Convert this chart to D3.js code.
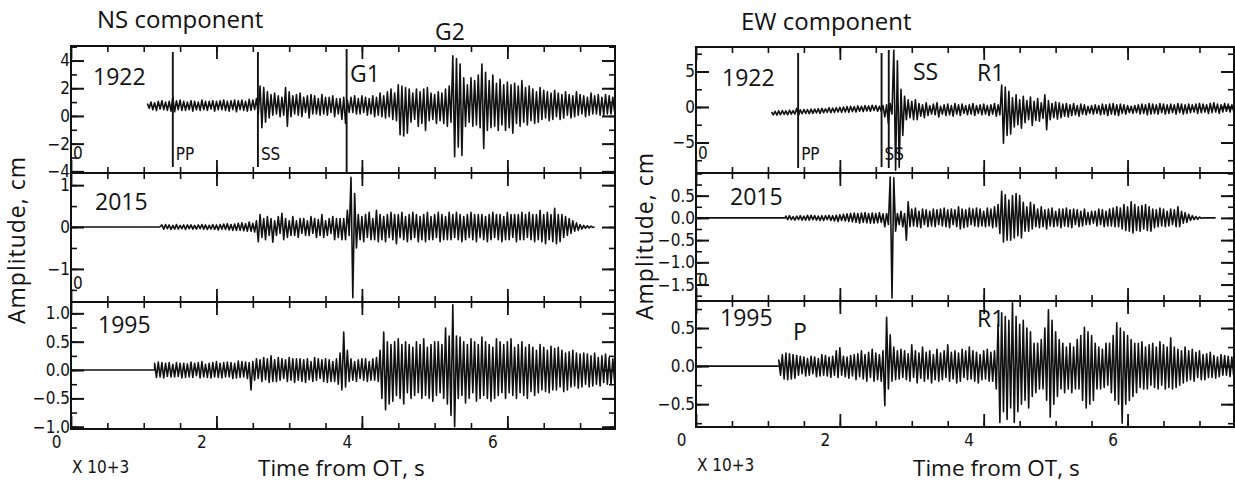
<!DOCTYPE html>
<html lang="en">
<head>
<meta charset="UTF-8">
<title>NS / EW seismograms 1922, 2015, 1995</title>
<style>
  body { margin: 0; padding: 0; background: #fff; }
  svg { display: block; }
  .narrow { font-family: "Liberation Sans Narrow", "DejaVu Sans Condensed", "Arial Narrow", sans-serif; }
  .big { font-family: "Open Sans", "Noto Sans", sans-serif; }
</style>
</head>
<body>
<svg width="1235" height="483"></svg>
<script src="https://d3js.org/d3.v7.min.js"></script>
<script>
// time axis is in units of 10^3 s
const dt = 0.025;
const xMax = 7.48;
const xMajorTicks = [0, 2, 4, 6];
const xTickLabels = ["0", "2", "4", "6"];

// peak amplitudes (cm), one every dt from t0, 20 per row (= 0.5 x 10^3 s)
const ns1922 = [
  0.15,-0.2,0.25,-0.3,0.2,-0.35,0.3,-0.25,0.35,-0.3,0.25,-0.35,0.3,-0.4,0.6,-0.45,0.35,-0.3,0.4,-0.35,
  0.3,-0.35,0.25,-0.3,0.35,-0.4,0.3,-0.3,0.25,-0.35,0.4,-0.3,0.3,-0.35,0.3,-0.25,0.35,-0.4,0.3,-0.3,
  0.35,-0.3,0.4,-0.35,0.3,-0.4,0.35,-0.3,0.4,-0.45,0.35,-0.3,0.4,-0.35,0.3,-0.4,0.45,-0.35,0.4,-0.3,
  0.5,-0.6,1.4,-1.6,1.3,-1.2,1.0,-0.9,0.8,-0.7,0.9,-0.6,0.7,-0.8,0.6,-0.7,1.3,-1.5,1.0,-0.8,
  0.7,-0.6,0.8,-0.7,0.9,-0.8,0.6,-0.5,0.7,-0.9,0.8,-0.6,0.7,-0.6,0.5,-0.7,0.8,-0.6,0.6,-0.7,
  0.6,-0.5,0.7,-0.8,0.5,-0.6,0.5,-1.0,0.6,-1.3,0.4,-0.5,0.6,-0.5,0.7,-0.6,0.5,-0.6,0.7,-0.5,
  0.6,-0.7,0.5,-0.6,0.7,-0.8,0.6,-0.7,0.9,-0.8,0.7,-0.9,1.0,-0.8,1.2,-1.0,0.9,-1.1,1.5,-2.1,
  1.4,-2.2,1.3,-2.0,1.2,-1.2,0.9,-1.0,1.2,-1.5,1.0,-1.3,1.2,-1.8,1.3,-1.1,0.9,-1.0,0.8,-1.3,
  1.0,-1.1,0.9,-1.3,1.2,-1.5,1.4,-1.2,3.6,-3.7,3.4,-3.0,3.0,-3.6,2.0,-1.5,1.5,-1.2,2.0,-1.5,
  1.8,-1.4,2.2,-1.6,3.0,-3.1,2.4,-1.8,1.8,-1.6,2.2,-1.5,1.6,-1.8,1.9,-1.4,1.5,-1.8,1.7,-1.6,
  1.5,-2.0,1.6,-1.3,1.4,-1.5,1.8,-1.2,1.3,-1.4,1.4,-1.1,1.2,-1.3,1.0,-1.2,1.3,-1.0,1.1,-0.9,
  1.0,-1.1,0.9,-1.0,1.1,-0.8,0.9,-1.0,0.8,-0.9,1.0,-0.7,0.8,-0.9,0.7,-0.8,1.0,-0.7,0.8,-0.6,
  0.7,-0.8,0.6,-0.7,0.9,-0.6,0.7,-0.6,0.8,-0.7,0.6,-0.7,0.8,-0.6,0.7,-0.6,0.6,-0.5];

const ns2015 = [
  0.05,-0.05,0.06,-0.04,0.05,-0.06,0.04,-0.05,0.06,-0.05,0.04,-0.04,0.05,-0.06,0.05,-0.04,0.05,-0.05,0.04,-0.05,
  0.05,-0.04,0.06,-0.05,0.05,-0.06,0.04,-0.05,0.06,-0.06,0.05,-0.07,0.06,-0.05,0.07,-0.06,0.08,-0.07,0.06,-0.08,
  0.07,-0.08,0.09,-0.08,0.1,-0.09,0.08,-0.1,0.12,-0.1,0.09,-0.12,0.15,-0.35,0.3,-0.25,0.2,-0.3,0.25,-0.2,
  0.2,-0.36,0.15,-0.2,0.25,-0.15,0.33,-0.3,0.2,-0.25,0.15,-0.2,0.25,-0.2,0.15,-0.25,0.2,-0.15,0.2,-0.2,
  0.15,-0.2,0.25,-0.15,0.2,-0.25,0.18,-0.2,0.3,-0.25,0.15,-0.2,0.2,-0.15,0.25,-0.3,0.2,-0.25,0.2,-0.3,
  0.2,-0.3,0.4,-0.2,1.19,-1.69,0.8,-0.5,0.3,-0.3,0.25,-0.35,0.3,-0.25,0.35,-0.3,0.2,-0.3,0.4,-0.35,
  0.3,-0.3,0.25,-0.35,0.3,-0.25,0.35,-0.3,0.3,-0.4,0.3,-0.25,0.35,-0.3,0.25,-0.35,0.3,-0.3,0.35,-0.25,
  0.3,-0.35,0.25,-0.3,0.3,-0.35,0.35,-0.3,0.25,-0.3,0.3,-0.25,0.35,-0.35,0.3,-0.3,0.25,-0.3,0.35,-0.3,
  0.3,-0.25,0.35,-0.3,0.3,-0.35,0.25,-0.3,0.3,-0.25,0.35,-0.3,0.3,-0.35,0.3,-0.25,0.3,-0.3,0.25,-0.35,
  0.3,-0.3,0.35,-0.25,0.3,-0.3,0.3,-0.35,0.25,-0.3,0.35,-0.3,0.3,-0.25,0.3,-0.35,0.3,-0.3,0.35,-0.3,
  0.3,-0.25,0.35,-0.3,0.3,-0.35,0.3,-0.3,0.4,-0.35,0.3,-0.4,0.35,-0.3,0.3,-0.35,0.45,-0.4,0.3,-0.35,
  0.3,-0.25,0.25,-0.2,0.2,-0.15,0.15,-0.1,0.1,-0.08,0.06,-0.05,0.04,-0.03,0.03,-0.02,0.02,-0.01,0];

const ns1995 = [
  0.12,-0.13,0.14,-0.12,0.13,-0.14,0.12,-0.11,0.13,-0.12,0.1,-0.12,0.13,-0.11,0.12,-0.14,0.12,-0.13,0.11,-0.12,
  0.14,-0.13,0.12,-0.1,0.13,-0.14,0.15,-0.12,0.1,-0.13,0.12,-0.14,0.13,-0.12,0.15,-0.13,0.12,-0.14,0.13,-0.12,
  0.14,-0.12,0.13,-0.15,0.12,-0.14,0.16,-0.13,0.15,-0.12,0.14,-0.15,0.13,-0.35,0.15,-0.18,0.2,-0.15,0.18,-0.2,
  0.22,-0.17,0.2,-0.22,0.25,-0.2,0.18,-0.2,0.22,-0.18,0.2,-0.15,0.18,-0.2,0.22,-0.18,0.2,-0.22,0.2,-0.18,
  0.2,-0.2,0.18,-0.22,0.2,-0.17,0.15,-0.2,0.22,-0.18,0.2,-0.15,0.18,-0.2,0.2,-0.22,0.18,-0.2,0.15,-0.2,
  0.2,-0.25,0.3,-0.35,0.67,-0.3,0.35,-0.2,0.2,-0.18,0.15,-0.2,0.18,-0.15,0.2,-0.18,0.2,-0.2,0.15,-0.18,
  0.2,-0.18,0.22,-0.2,0.35,-0.5,0.67,-0.7,0.5,-0.6,0.45,-0.55,0.5,-0.45,0.55,-0.5,0.45,-0.6,0.5,-0.4,
  0.45,-0.5,0.4,-0.45,0.5,-0.4,0.45,-0.5,0.55,-0.45,0.4,-0.5,0.45,-0.55,0.5,-0.45,0.5,-0.4,0.45,-0.5,
  0.74,-0.6,0.6,-0.8,1.15,-1.0,0.6,-0.5,0.58,-0.45,0.5,-0.58,0.45,-0.5,0.55,-0.4,0.5,-0.55,0.45,-0.5,
  0.58,-0.45,0.5,-0.5,0.45,-0.55,0.4,-0.5,0.55,-0.45,0.5,-0.4,0.45,-0.5,0.5,-0.4,0.55,-0.45,0.4,-0.5,
  0.45,-0.4,0.5,-0.45,0.4,-0.5,0.45,-0.38,0.4,-0.45,0.35,-0.4,0.45,-0.35,0.4,-0.38,0.35,-0.4,0.42,-0.35,
  0.38,-0.35,0.4,-0.3,0.35,-0.38,0.3,-0.35,0.32,-0.3,0.35,-0.28,0.3,-0.32,0.28,-0.3,0.3,-0.25,0.28,-0.3,
  0.25,-0.28,0.3,-0.25,0.22,-0.28,0.25,-0.22,0.28,-0.25,0.22,-0.25,0.2,-0.22];

// EW 1922 values include the drifting baseline of the record
const ew1922 = [
  -0.7,-1.1,-0.6,-1.15,-0.55,-1.1,-0.5,-1.05,-0.55,-1.1,-0.45,-1.0,-0.5,-1.0,-0.2,-1.2,-0.4,-0.95,-0.35,-0.9,
  -0.35,-0.95,-0.3,-0.9,-0.3,-0.85,-0.25,-0.9,-0.2,-0.8,-0.25,-0.75,-0.1,-0.8,-0.15,-0.75,-0.1,-0.7,-0.05,-0.75,
  0.0,-0.7,0.05,-0.75,0.1,-0.65,0.05,-0.7,0.15,-0.6,0.1,-0.65,0.2,-0.55,0.15,-0.6,0.25,-0.5,0.2,-0.6,
  0.1,-0.6,0.2,-1.4,0.3,-2.3,0.5,-1.0,8.0,-8.9,6.5,-8.5,2.5,-4.0,1.5,-1.8,1.0,-1.5,0.8,-1.8,
  1.0,-1.8,0.5,-1.3,0.3,-1.5,0.6,-1.2,0.2,-1.0,0.4,-1.1,0.6,-1.4,0.1,-1.0,0.3,-1.2,0.4,-1.1,
  0.2,-1.3,0.5,-1.0,0.3,-1.2,0.4,-0.9,0.2,-1.1,0.3,-1.0,0.5,-1.2,0.2,-0.9,0.3,-1.1,0.4,-1.0,
  0.2,-1.2,0.3,-1.0,0.5,-1.3,0.3,-1.1,3.1,-5.1,2.8,-4.0,2.2,-3.8,1.3,-2.8,1.7,-2.5,1.0,-3.0,
  1.5,-2.2,0.9,-1.8,1.4,-2.6,0.8,-1.9,1.2,-2.0,0.6,-1.6,1.7,-3.2,0.9,-1.8,0.5,-1.5,0.7,-1.7,
  0.6,-1.5,0.4,-1.3,0.5,-1.4,0.3,-1.2,0.5,-1.1,0.2,-1.3,0.4,-1.0,0.3,-1.1,0.1,-0.9,0.2,-1.0,
  0.3,-0.9,0.2,-1.1,0.4,-1.0,0.3,-1.2,0.4,-1.0,0.5,-1.1,0.3,-1.2,0.4,-0.9,0.3,-1.0,0.2,-0.8,
  0.1,-0.9,0.2,-0.8,0.3,-1.0,0.4,-0.9,0.3,-1.1,0.5,-1.0,0.4,-0.9,0.3,-1.0,0.5,-0.8,0.4,-1.0,
  0.3,-0.9,0.4,-0.8,0.3,-1.0,0.5,-0.8,0.4,-1.0,0.3,-0.9,0.4,-0.8,0.3,-0.7,0.4,-0.9,0.5,-0.8,
  0.4,-0.7,0.3,-0.9,0.5,-0.8,0.6,-0.7,0.4,-0.9,0.3,-0.7,0.5,-0.6,0.4,-0.7,0.3,-0.6];

const ew2015 = [
  0.04,-0.04,0.05,-0.04,0.03,-0.05,0.04,-0.04,0.05,-0.05,0.04,-0.05,0.06,-0.05,0.06,-0.04,0.05,-0.05,0.04,-0.06,
  0.05,-0.06,0.05,-0.04,0.06,-0.06,0.05,-0.07,0.06,-0.08,0.07,-0.06,0.08,-0.07,0.09,-0.08,0.1,-0.09,0.11,-0.1,
  0.1,-0.12,0.11,-0.1,0.12,-0.11,0.1,-0.12,0.11,-0.12,0.1,-0.11,0.12,-0.1,0.09,-0.2,0.1,-0.15,0.92,-1.8,
  0.9,-0.3,0.1,-0.15,0.15,-0.2,0.1,-0.5,0.36,-0.2,0.2,-0.18,0.22,-0.2,0.15,-0.22,0.2,-0.15,0.18,-0.2,
  0.15,-0.18,0.2,-0.2,0.18,-0.15,0.2,-0.18,0.22,-0.2,0.18,-0.22,0.2,-0.15,0.18,-0.2,0.25,-0.25,0.2,-0.22,
  0.18,-0.2,0.22,-0.15,0.2,-0.18,0.22,-0.2,0.2,-0.18,0.15,-0.2,0.22,-0.18,0.2,-0.22,0.25,-0.2,0.3,-0.35,
  0.6,-0.54,0.52,-0.5,0.4,-0.5,0.5,-0.45,0.55,-0.4,0.5,-0.45,0.35,-0.3,0.25,-0.3,0.35,-0.25,0.3,-0.2,
  0.2,-0.22,0.25,-0.2,0.18,-0.25,0.2,-0.18,0.22,-0.2,0.15,-0.18,0.2,-0.22,0.2,-0.18,0.22,-0.2,0.18,-0.22,
  0.2,-0.15,0.18,-0.2,0.15,-0.18,0.2,-0.15,0.12,-0.15,0.15,-0.12,0.15,-0.18,0.2,-0.15,0.18,-0.2,0.15,-0.18,
  0.2,-0.18,0.22,-0.2,0.25,-0.2,0.22,-0.25,0.3,-0.28,0.25,-0.3,0.36,-0.34,0.3,-0.28,0.25,-0.3,0.28,-0.25,
  0.3,-0.28,0.25,-0.3,0.2,-0.22,0.18,-0.2,0.22,-0.18,0.2,-0.2,0.15,-0.18,0.2,-0.15,0.18,-0.2,0.25,-0.2,
  0.15,-0.12,0.12,-0.1,0.08,-0.06,0.05,-0.04,0.03,-0.03,0.02,-0.01,0,0,0,0,0,0,0,0];

const ew1995 = [
  0.08,-0.12,0.15,-0.17,0.17,-0.18,0.16,-0.17,0.15,-0.16,0.14,-0.12,0.13,-0.1,0.12,-0.13,0.1,-0.12,0.13,-0.1,
  0.12,-0.14,0.1,-0.13,0.15,-0.12,0.14,-0.13,0.12,-0.15,0.13,-0.12,0.2,-0.15,0.24,-0.12,0.13,-0.14,0.12,-0.16,
  0.14,-0.13,0.15,-0.18,0.16,-0.14,0.2,-0.17,0.15,-0.2,0.18,-0.15,0.22,-0.2,0.17,-0.18,0.15,-0.2,0.2,-0.52,
  0.64,-0.3,0.41,-0.2,0.25,-0.18,0.2,-0.17,0.22,-0.15,0.2,-0.18,0.16,-0.2,0.28,-0.15,0.2,-0.22,0.17,-0.16,
  0.25,-0.2,0.18,-0.17,0.2,-0.22,0.15,-0.18,0.22,-0.2,0.17,-0.18,0.2,-0.15,0.28,-0.2,0.18,-0.17,0.2,-0.22,
  0.17,-0.2,0.22,-0.15,0.2,-0.18,0.25,-0.17,0.2,-0.2,0.18,-0.22,0.15,-0.18,0.2,-0.17,0.22,-0.2,0.18,-0.2,
  0.2,-0.3,0.55,-0.74,0.7,-0.6,0.65,-0.7,0.6,-0.55,0.83,-0.74,0.65,-0.6,0.55,-0.5,0.6,-0.45,0.5,-0.55,
  0.45,-0.4,0.3,-0.35,0.3,-0.3,0.35,-0.3,0.5,-0.45,0.74,-0.67,0.6,-0.5,0.45,-0.4,0.35,-0.3,0.3,-0.35,
  0.25,-0.3,0.3,-0.35,0.25,-0.3,0.35,-0.3,0.4,-0.45,0.51,-0.55,0.45,-0.5,0.4,-0.45,0.3,-0.3,0.25,-0.3,
  0.22,-0.28,0.3,-0.25,0.3,-0.35,0.4,-0.45,0.57,-0.5,0.5,-0.75,0.45,-0.5,0.4,-0.45,0.35,-0.4,0.3,-0.35,
  0.3,-0.28,0.32,-0.3,0.25,-0.3,0.28,-0.25,0.3,-0.28,0.25,-0.3,0.32,-0.25,0.28,-0.3,0.25,-0.28,0.37,-0.3,
  0.25,-0.28,0.22,-0.25,0.2,-0.22,0.25,-0.2,0.2,-0.18,0.22,-0.2,0.18,-0.15,0.2,-0.18,0.15,-0.18,0.16,-0.15,
  0.18,-0.15,0.14,-0.16,0.12,-0.14,0.15,-0.12,0.14,-0.12,0.13,-0.14,0.12,-0.12];

// y tick values per trace
const ns1922Ticks = [-4, -2, 0, 2, 4];
const ns2015Ticks = [-1, 0, 1];
const ns1995Ticks = [-1, -0.5, 0, 0.5, 1];
const ew1922Ticks = [-5, 0, 5];
const ew2015Ticks = [-1.5, -1, -0.5, 0, 0.5];
const ew1995Ticks = [-0.5, 0, 0.5];

// phase picks (10^3 s)
const ns1922Picks = [["PP", 1.40], ["SS", 2.57], ["", 3.79]];
const ew1922Picks = [["PP", 1.42], ["SS", 2.58], ["", 2.68]];

const svg = d3.select("svg");
const ink = "#111";

const sides = [
  { x0: 71, x1: 615, rows: [46, 173, 302, 429],
    panels: [
      { id: "ns1", year: "1922", values: ns1922, t0: 1.05, offset: 0.75, flatEnd: null, yDomain: [-4.12, 5.05], ticks: ns1922Ticks, minor: 1, fmt: d3.format("d"), picks: ns1922Picks, pickY: [[52, 167], [52, 167], [49, 173]], zeroMark: 153 },
      { id: "ns2", year: "2015", values: ns2015, t0: 1.25, offset: 0, flatEnd: 1.22, yDomain: [-1.79, 1.29], ticks: ns2015Ticks, minor: 0.5, fmt: d3.format("d"), zeroMark: 283 },
      { id: "ns3", year: "1995", values: ns1995, t0: 1.15, offset: 0, flatEnd: 1.15, yDomain: [-1.04, 1.2], ticks: ns1995Ticks, minor: 0.25, fmt: d3.format(".1f") }
    ] },
  { x0: 696, x1: 1234, rows: [47, 173, 301, 427],
    panels: [
      { id: "ew1", year: "1922", values: ew1922, t0: 1.05, offset: 0, flatEnd: null, yDomain: [-9.3, 8.45], ticks: ew1922Ticks, minor: 2.5, fmt: d3.format("d"), picks: ew1922Picks, pickY: [[53, 168], [53, 167], [50, 168]], zeroMark: 153 },
      { id: "ew2", year: "2015", values: ew2015, t0: 1.25, offset: 0, flatEnd: 1.24, yDomain: [-1.87, 1.01], ticks: ew2015Ticks, minor: 0.25, fmt: d3.format(".1f"), zeroMark: 280 },
      { id: "ew3", year: "1995", values: ew1995, t0: 1.15, offset: 0, flatEnd: 1.17, yDomain: [-0.8, 0.855], ticks: ew1995Ticks, minor: 0.25, fmt: d3.format(".1f") }
    ] }
];

function styleAxis(g, width) {
  g.select(".domain").remove();
  g.selectAll(".tick line").attr("stroke", ink).attr("stroke-width", width);
}

function drawPanel(p, x0, x1, y0, y1) {
  const x = d3.scaleLinear().domain([0, xMax]).range([x0, x1]);
  const y = d3.scaleLinear().domain(p.yDomain).range([y1, y0]);
  const g = svg.append("g");

  svg.append("clipPath").attr("id", "clip-" + p.id)
    .append("rect").attr("x", x0).attr("y", y0).attr("width", x1 - x0).attr("height", y1 - y0);

  // the trace
  const pts = [];
  if (p.flatEnd !== null) pts.push([0, 0], [p.flatEnd, 0]);
  p.values.forEach((v, i) => pts.push([p.t0 + i * dt, v + p.offset]));
  g.append("path").datum(pts)
    .attr("clip-path", `url(#clip-${p.id})`)
    .attr("d", d3.line().x(d => x(d[0])).y(d => y(d[1])))
    .attr("fill", "none").attr("stroke", ink).attr("stroke-width", 1.6).attr("stroke-linejoin", "round");

  // time ticks, top and bottom, pointing inward
  const xMinor = d3.range(0.5, xMax, 0.5);
  [[d3.axisTop, y0], [d3.axisBottom, y1]].forEach(([ax, yy]) => {
    g.append("g").attr("transform", `translate(0,${yy})`)
      .call(ax(x).tickValues(xMinor).tickSize(-6).tickFormat(""))
      .call(a => styleAxis(a, 1.6));
    g.append("g").attr("transform", `translate(0,${yy})`)
      .call(ax(x).tickValues(xMajorTicks).tickSize(-13).tickFormat(""))
      .call(a => styleAxis(a, 1.8));
  });

  // amplitude ticks, both sides
  const lo = Math.ceil(p.yDomain[0] / p.minor) * p.minor;
  const yMinor = d3.range(lo, p.yDomain[1], p.minor);
  [[d3.axisLeft, x0], [d3.axisRight, x1]].forEach(([ax, xx], k) => {
    g.append("g").attr("transform", `translate(${xx},0)`)
      .call(ax(y).tickValues(yMinor).tickSize(-6).tickFormat(""))
      .call(a => styleAxis(a, 1.6));
    const major = g.append("g").attr("transform", `translate(${xx},0)`)
      .call(ax(y).tickValues(p.ticks).tickSize(-13).tickPadding(1).tickFormat(k === 0 ? p.fmt : ""))
      .call(a => styleAxis(a, 2));
    major.attr("font-size", null).attr("font-family", null);
    major.selectAll("text").attr("class", "narrow").attr("font-size", 17).attr("fill", ink);
  });

  // frame
  g.append("rect").attr("x", x0).attr("y", y0).attr("width", x1 - x0).attr("height", y1 - y0)
    .attr("fill", "none").attr("stroke", ink).attr("stroke-width", 2);

  // phase pick lines
  if (p.picks) {
    p.picks.forEach(([name, t], i) => {
      g.append("line").attr("x1", x(t)).attr("x2", x(t))
        .attr("y1", p.pickY[i][0]).attr("y2", p.pickY[i][1])
        .attr("stroke", ink).attr("stroke-width", 1.9);
      if (name) g.append("text").attr("class", "narrow").attr("x", x(t) + 3).attr("y", y1 - 13)
        .attr("font-size", 17).attr("fill", ink).text(name);
    });
  }

  // the "0" start mark inside the box
  if (p.zeroMark) {
    g.append("text").attr("class", "narrow").attr("x", x0 + 2).attr("y", p.zeroMark + 6)
      .attr("font-size", 17).attr("fill", ink).text("0");
  }
  return x;
}

sides.forEach(s => {
  let x;
  s.panels.forEach((p, i) => { x = drawPanel(p, s.x0, s.x1, s.rows[i], s.rows[i + 1]); });
  // bottom labels of the time axis
  const bottom = s.rows[3];
  svg.append("g").attr("transform", `translate(0,${bottom})`)
    .call(d3.axisBottom(x).tickValues(xMajorTicks).tickSize(0).tickPadding(7).tickFormat((d, i) => xTickLabels[i]))
    .call(a => a.select(".domain").remove())
    .attr("font-size", null).attr("font-family", null)
    .selectAll("text").attr("class", "narrow").attr("font-size", 17).attr("fill", ink).attr("dx", -15);
  svg.append("text").attr("class", "narrow").attr("x", s.x0 + 1).attr("y", bottom + 44)
    .attr("font-size", 17).attr("fill", ink).text("X  10+3");
});

// big labels
const bigText = [
  ["NS component", 97, 28, 24],
  ["G2", 435, 40, 23],
  ["EW component", 741, 30, 24],
  ["1922", 93, 85, 23], ["2015", 95, 210, 23], ["1995", 98, 333, 23],
  ["1922", 722, 86, 23], ["2015", 730, 205, 23], ["1995", 720, 326, 23],
  ["G1", 350, 82, 23], ["SS", 913, 80, 23], ["R1", 977, 81, 23],
  ["P", 793, 340, 23], ["R1", 977, 327, 23],
  ["Time from OT, s", 258, 476, 22.5], ["Time from OT, s", 913, 476, 22.5]
];
bigText.forEach(([t, x, y, fs]) => {
  svg.append("text").attr("class", "big").attr("x", x).attr("y", y)
    .attr("font-size", fs).attr("fill", ink).text(t);
});
[[25, 240], [653, 236]].forEach(([x, y]) => {
  svg.append("text").attr("class", "big").attr("transform", `translate(${x},${y}) rotate(-90)`)
    .attr("text-anchor", "middle").attr("font-size", 23).attr("letter-spacing", 1)
    .attr("fill", ink).text("Amplitude, cm");
});
</script>
</body>
</html>
